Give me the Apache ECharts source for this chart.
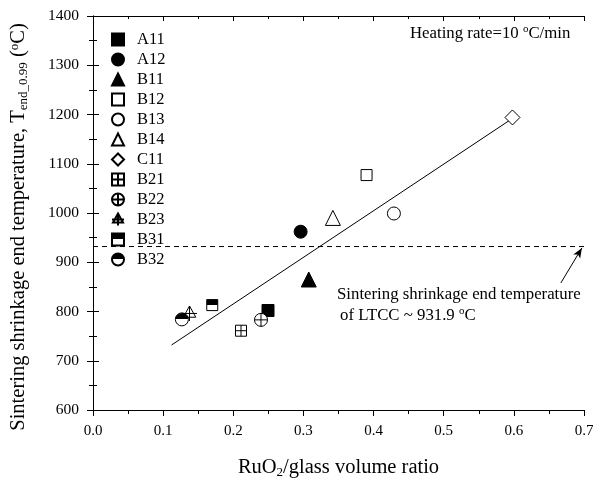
<!DOCTYPE html>
<html><head><meta charset="utf-8">
<script src="https://cdn.jsdelivr.net/npm/echarts@6/dist/echarts.min.js"></script>
<style>html,body{margin:0;padding:0;background:#fff}#c{width:594px;height:478px}</style>
</head><body><div id="c"></div>
<script>
const seriesNames = ['A11','A12','B11','B12','B13','B14','C11','B21','B22','B23','B31','B32'];
const xValues = [0.2495, 0.296, 0.3076, 0.390, 0.429, 0.342, 0.598, 0.211, 0.2395, 0.1376, 0.170, 0.1267];
const yValues = [802, 962, 865, 1077, 999, 990, 1194, 761, 783, 796, 813, 784];
const fitLine = [[0.112, 732], [0.598, 1192]];
const ltccTemp = 931.9;
const arrowFrom = [0.667, 858];
const arrowTo = [0.697, 929];
const xTicks = [0, 0.7, 0.1];
const yTicks = [600, 1400, 100];

const F = '"Liberation Serif","Times New Roman",serif';
const half = (top, bottom) => new echarts.graphic.LinearGradient(0,0,0,1,[
  {offset:0,color:top},{offset:0.5,color:top},{offset:0.5,color:bottom},{offset:1,color:bottom}]);
const styles = {
  A11:{symbol:'rect', size:12, color:'#000', border:'#000'},
  A12:{symbol:'circle', size:13, color:'#000', border:'#000'},
  B11:{symbol:'triangle', size:15, color:'#000', border:'#000'},
  B12:{symbol:'rect', size:11, color:'#fff', border:'#000'},
  B13:{symbol:'circle', size:13, color:'#fff', border:'#000'},
  B14:{symbol:'triangle', size:15, color:'#fff', border:'#000'},
  C11:{symbol:'diamond', size:15, color:'#fff', border:'#000'},
  B21:{symbol:'path://M0 0L10 0L10 10L0 10ZM0 5L10 5M5 0L5 10', size:11, color:'#fff', border:'#000'},
  B22:{symbol:'path://M0 5A5 5 0 1 1 10 5A5 5 0 1 1 0 5ZM0 5L10 5M5 0L5 10', size:13, color:'#fff', border:'#000'},
  B23:{symbol:'path://M5 0L10 9L0 9ZM5 0L5 12M-1 6L11 6', size:15, color:'#fff', border:'#000'},
  B31:{symbol:'rect', size:11, color:half('#000','#fff'), border:'#000'},
  B32:{symbol:'circle', size:13, color:half('#000','#fff'), border:'#000'}
};

const series = seriesNames.map((n,i)=>({
  name:n, type:'scatter', symbol:styles[n].symbol, symbolSize:styles[n].size,
  itemStyle:{color:styles[n].color, borderColor:styles[n].border, borderWidth:1, opacity:1},
  data:[[xValues[i], yValues[i]]], z:5
}));
series.push({type:'line', data:fitLine, symbol:'none', lineStyle:{color:'#000',width:1}, silent:true, z:3});
series.push({type:'line', data:[[xTicks[0],ltccTemp],[xTicks[1],ltccTemp]], symbol:'none',
  lineStyle:{color:'#000',width:1,type:[5,4]}, silent:true, z:2,
  markLine:{silent:true, symbol:['none','arrow'], symbolSize:[6,10], lineStyle:{color:'#000',width:1,type:'solid'},
    label:{show:false}, data:[[{coord:arrowFrom},{coord:arrowTo}]]}
});

const chart = echarts.init(document.getElementById('c'), null, {renderer:'canvas'});
const axisCommon = {
  axisLine:{lineStyle:{color:'#000',width:1}},
  axisTick:{length:6, lineStyle:{color:'#000'}},
  minorTick:{show:true, splitNumber:2, length:4, lineStyle:{color:'#000'}},
  splitLine:{show:false}
};
chart.setOption({
  animation:false,
  textStyle:{fontFamily:F},
  grid:{left:93, right:10, top:16, bottom:68, outerBoundsMode:'none', containLabel:false},
  legend:{orient:'vertical', left:106, top:26, itemWidth:12, itemHeight:12, itemGap:3,
    data:seriesNames, textStyle:{fontFamily:F, fontSize:16.5, color:'#000', padding:[0,0,0,8]}},
  xAxis:[
    Object.assign({type:'value', min:xTicks[0], max:xTicks[1], interval:xTicks[2], position:'bottom',
      axisLabel:{color:'#000', fontSize:15, fontFamily:F, margin:14, formatter:v=>v.toFixed(1)},
      name:'RuO{sub|2}/glass volume ratio', nameLocation:'middle', nameGap:46,
      nameTextStyle:{color:'#000', fontSize:20.5, fontFamily:F,
        rich:{sub:{fontSize:13, fontFamily:F, color:'#000', padding:[10,0,0,0]}}}}, axisCommon),
    Object.assign({type:'value', min:xTicks[0], max:xTicks[1], interval:xTicks[2], position:'top',
      axisLabel:{show:false}}, axisCommon, {axisTick:{inside:true,length:5,lineStyle:{color:'#000'}},
      minorTick:{show:true,inside:true,splitNumber:2,length:3,lineStyle:{color:'#000'}}})
  ],
  yAxis:[
    Object.assign({type:'value', min:yTicks[0], max:yTicks[1], interval:yTicks[2], position:'left',
      axisLabel:{color:'#000', fontSize:15.5, fontFamily:F, margin:14, formatter:v=>String(v)}}, axisCommon),
    Object.assign({type:'value', min:yTicks[0], max:yTicks[1], interval:yTicks[2], position:'right',
      axisLabel:{show:false}}, axisCommon)
  ],
  graphic:[
    {type:'text', x:19, y:227, rotation:Math.PI/2,
      style:{text:'Sintering shrinkage end temperature, T{sub|end_0.99} ({sup|o}C)', fill:'#000', font:'20.5px '+F,
        align:'center', verticalAlign:'middle',
        rich:{sub:{fontSize:13, fontFamily:F, fill:'#000', padding:[10,0,0,0]},
              sup:{fontSize:13, fontFamily:F, fill:'#000', padding:[0,0,9,0]}}}},
    {type:'text', left:410, top:24, style:{text:'Heating rate=10 {sup|o}C/min', fill:'#000', font:'16.8px '+F,
      rich:{sup:{fontSize:11, fontFamily:F, fill:'#000', padding:[0,0,8,0]}}}},
    {type:'text', left:337, top:286, style:{text:'Sintering shrinkage end temperature', fill:'#000', font:'16.8px '+F}},
    {type:'text', left:340, top:306, style:{text:'of LTCC ~ 931.9 {sup|o}C', fill:'#000', font:'16.8px '+F,
      rich:{sup:{fontSize:11, fontFamily:F, fill:'#000', padding:[0,0,8,0]}}}}
  ],
  series:series
});
</script></body></html>
